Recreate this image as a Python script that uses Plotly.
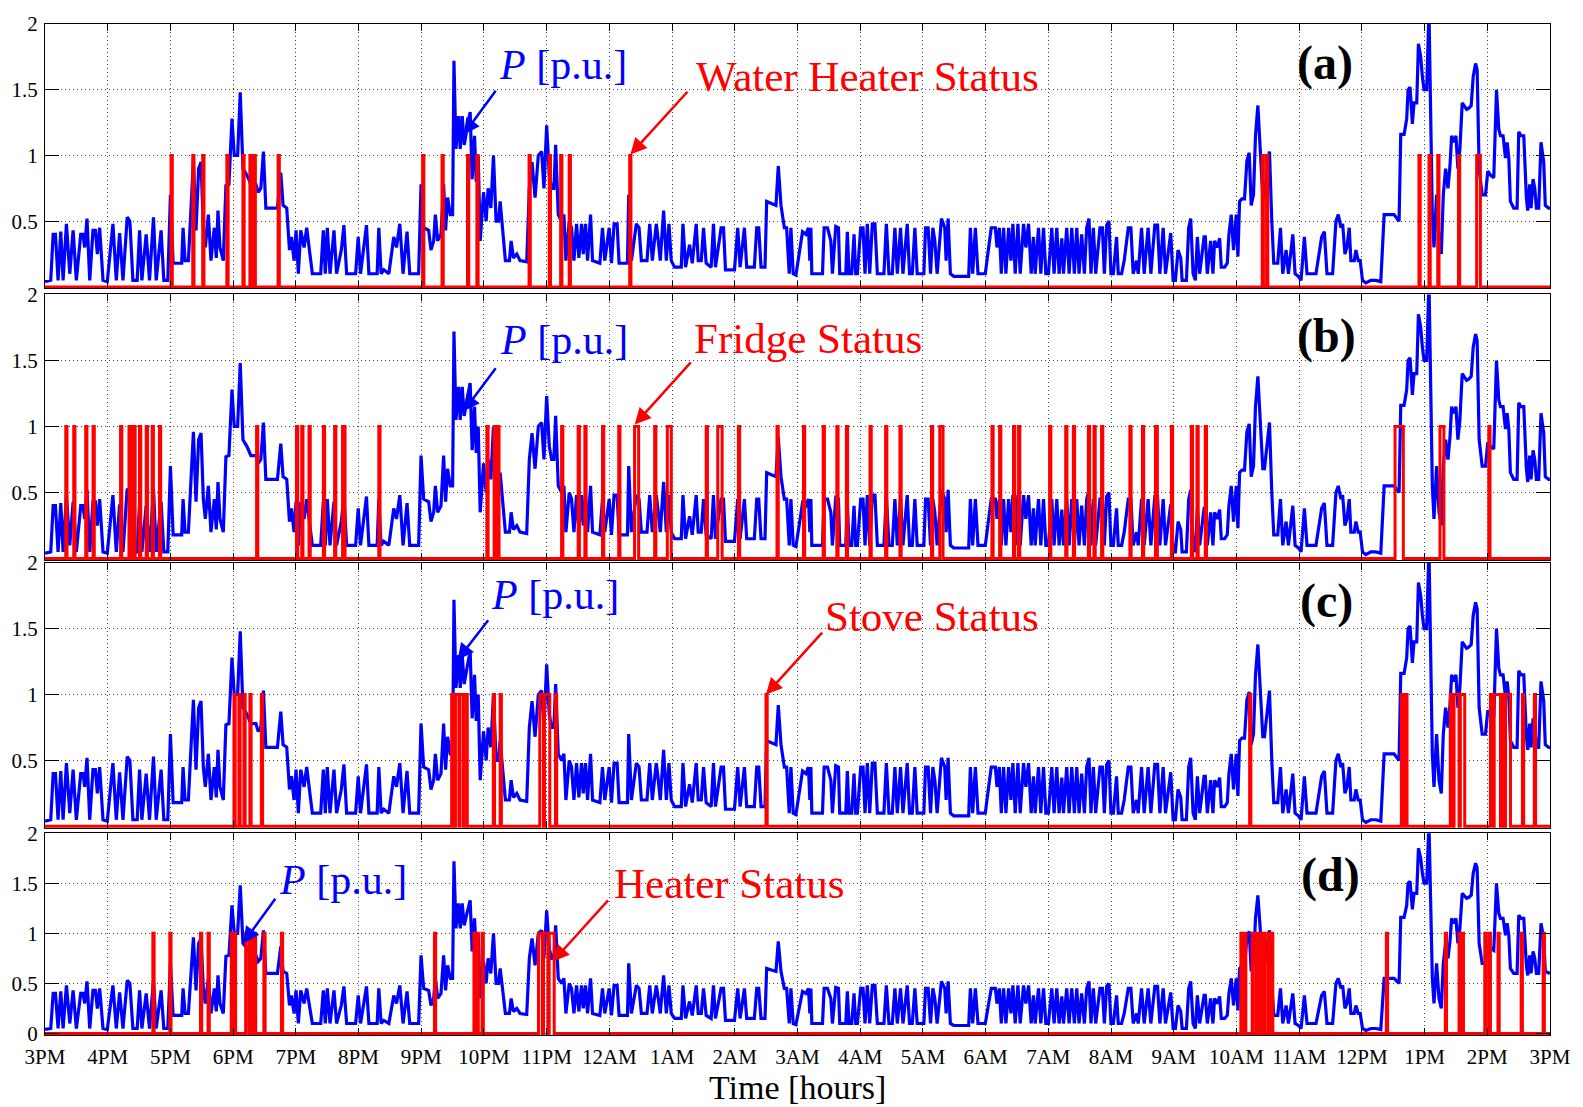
import plotly.graph_objects as go

HOUR_LABELS = ["3PM", "4PM", "5PM", "6PM", "7PM", "8PM", "9PM", "10PM", "11PM", "12AM",
               "1AM", "2AM", "3AM", "4AM", "5AM", "6AM", "7AM", "8AM", "9AM", "10AM",
               "11AM", "12PM", "1PM", "2PM", "3PM"]

# Aggregate power P [p.u.]: minutes after 3PM and value
P_MIN = [0, 5.5, 7.8, 10, 12.5, 15.1, 17.3, 20.5, 23.7, 26.9, 30, 34.2, 36.4, 38, 40.2, 42.8, 45.9, 48.2, 50.1, 52.3,
         55.5, 59.6, 61.8, 65, 68.2, 71.4, 74.6, 78.7, 81.2, 84.1, 88.2, 90.5, 92.7, 96.8, 100, 103.8, 106.4, 111.1, 113.7, 117.5,
         120, 122.6, 130.8, 132.1, 134, 137.2, 139.7, 142, 144.5, 147, 149.3, 151.5, 153.4, 156.3, 158.8, 162, 163.9, 165.5, 167.4, 170.6,
         173.1, 176, 178.9, 181.1, 184.3, 186.8, 189.4, 193.2, 197, 201.8, 204, 206.5, 209, 211.3, 222.4, 225.6, 227.8, 231.3, 233.9, 235.8,
         238.3, 240.2, 242.4, 244.7, 247.9, 250.4, 253, 255.8, 263.8, 266.3, 268.2, 270.1, 272.7, 276.5, 279, 283.5, 286, 288.6, 297.2, 299.7,
         301.9, 307.6, 309.9, 317.8, 319.4, 321.6, 324.2, 329, 333.7, 336.3, 339.5, 342.6, 346.4, 349, 357.5,
         359.8, 362.3, 367.1, 369.3, 371.9, 373.5, 375.7, 378.9, 381.4, 383.3, 385.2, 387.8, 390, 391.3, 393.2, 395.7, 397.3, 399.2, 401.1, 403.7,
         406.8, 408.7, 411, 412.6, 414.5, 416.4, 419.6, 422.1, 424, 426.6, 429.1, 431.6, 433.9, 435.5, 438, 440.5, 444.4, 446, 448.2, 451.4,
         454.5, 460.9, 463.4, 466, 468.9, 472, 475.2, 477.4, 480, 482.5, 484.7, 486.9, 488.6, 491.1, 494.3, 496.5, 498.4, 501.6, 503.8, 506.1,
         508.6, 510.8, 513.4, 515, 517.2, 519.1, 522, 523.9, 530.9, 533.4, 535.6, 539.8, 542, 544.5, 547.4, 549.3, 557.3, 558.5, 561.1, 565.8,
         568.4, 570.6, 576, 578.6, 581.1, 584.9, 586.8, 588.7, 591.9, 594.5, 597, 599.2, 602.4, 608.8, 610.4, 612.9, 616.7, 619.3, 623.1, 625,
         627.9, 630.1, 632.6, 637.4, 639.6, 641.5, 646.9, 649.2, 651.1, 659.7, 662.8, 665.1, 669.2, 671.4, 678.7, 681, 682.9, 685.1, 688.9, 690.5,
         699.4, 701.6, 704.2, 707.4, 709.6, 712.1,
         713.7, 715.9, 718.5, 724.8, 728, 730.5, 731.8, 732.8, 733.7, 743.9, 745.5, 748.7, 751.9, 753.4, 756.6, 759.2, 760.4, 766.2, 767.7, 769.3,
         771.9, 774.1, 775.7, 777.3, 780.5, 782.7, 784.6, 786.8, 789.1, 791.6, 794.1, 796.4, 802.7, 805, 807.5, 810.7, 813.2, 815.5, 818.6, 820.9,
         825, 827.2, 829.8, 832.3, 834.5, 840.9, 842.5, 845, 847.3, 849.5, 851.4, 853.6, 857.7, 860.9, 862.2, 864.1, 866.3, 869.5, 883.8, 885.4,
         887.6, 890.2, 892.7, 899.7, 902.9, 905.4, 909.3, 910.9, 913.1, 915, 917.2, 919.4, 922, 924.2, 926.1, 928.3, 930.9, 933.1, 936.3, 938.5,
         941.1, 943.6, 945.8, 947.4, 950.6, 952.8, 955.4, 957.6, 960.1, 963.3, 965.5, 968.1, 970.3, 972.9, 974.5, 977.6, 979.9, 982.4, 984.9, 987.2,
         989.4, 991.9, 994.5, 996.7, 998.9, 1000.8, 1003.1, 1005.3, 1009.4, 1011.7, 1013.6, 1015.8, 1018, 1019.9, 1022.2, 1025.3, 1026.9, 1030.1, 1032.6, 1036.5,
         1039, 1041.2, 1044.4, 1046, 1049.2, 1051.7, 1055.5, 1058.1, 1061.9, 1064.5, 1066.7, 1069.9, 1072.1,
         1077.1, 1079.4, 1081.6, 1084.1, 1086.7, 1088, 1092.1, 1094.3, 1096.2, 1098.5, 1100.7, 1102.6, 1104.8, 1109, 1110.2, 1112.1, 1115.3, 1117.5, 1119.1, 1121.7,
         1123.9, 1125.5, 1128.7, 1131.2, 1132.8, 1135, 1137.2, 1139.8, 1141.4, 1143, 1145.2, 1147.7, 1150, 1152.2, 1154.1, 1156.3, 1158.2, 1160.5, 1163, 1165.2,
         1166.8, 1169.4, 1171.6, 1173.8, 1175.7, 1179.5, 1182.1, 1184.3, 1187.5, 1189.7, 1193.9, 1196.1, 1199.3, 1201.8, 1205, 1207.5, 1211.3, 1216.1, 1221.5, 1224.1,
         1226.6, 1232, 1235.2, 1237.4, 1240, 1241.6, 1243.8, 1245.7, 1247.9, 1249.5, 1252.7, 1254.3, 1256.5, 1258.4, 1260.6, 1263.8, 1268.6, 1273.4, 1278.1, 1281.3,
         1290.8, 1295.6, 1297.2, 1300.4, 1302.9, 1304.2, 1306.1, 1308.3, 1309.9, 1312.5, 1314.1, 1316.3, 1317.9, 1319.5, 1322, 1324.2, 1327.4, 1329, 1331.5, 1333.8,
         1336, 1337.9, 1340.1, 1342.4, 1344.3, 1345.9, 1348.1, 1350, 1351.9, 1353.8, 1356, 1357.6, 1360.2, 1362.4, 1364.6, 1366.5, 1368.8, 1370.3, 1372.2, 1375.1,
         1378.3, 1380.5, 1383.1, 1386.2, 1388.8, 1391, 1392.6, 1395.1, 1397.4, 1399, 1400.6, 1402.1, 1405.3, 1408.5, 1410.1, 1412.3, 1414.9, 1417.4, 1418.7, 1420.6,
         1421.9, 1423.8, 1425.4, 1427, 1429.2, 1431.4, 1434, 1435.5, 1438.7, 1440]

P_VAL = [0.04, 0.05, 0.40, 0.40, 0.05, 0.42, 0.05, 0.48, 0.10, 0.43, 0.05, 0.40, 0.40, 0.30, 0.52, 0.05, 0.43, 0.43, 0.25, 0.45,
         0.05, 0.04, 0.22, 0.48, 0.05, 0.41, 0.05, 0.53, 0.50, 0.05, 0.05, 0.43, 0.05, 0.40, 0.05, 0.53, 0.05, 0.43, 0.05, 0.05,
         0.70, 0.18, 0.18, 0.45, 0.20, 0.20, 0.60, 0.96, 0.43, 0.90, 0.95, 0.45, 0.30, 0.55, 0.20, 0.45, 0.22, 0.58, 0.30, 0.20,
         0.77, 0.78, 1.28, 1.00, 1.00, 1.48, 0.90, 0.85, 0.78, 0.78, 0.72, 0.75, 1.03, 0.60, 0.60, 0.87, 0.62, 0.60, 0.28, 0.38,
         0.20, 0.43, 0.10, 0.43, 0.30, 0.45, 0.28, 0.10, 0.10, 0.43, 0.10, 0.45, 0.10, 0.43, 0.10, 0.28, 0.47, 0.10, 0.10, 0.38,
         0.10, 0.47, 0.10, 0.10, 0.45, 0.10, 0.13, 0.10, 0.38, 0.30, 0.48, 0.10, 0.42, 0.10, 0.10,
         0.78, 0.45, 0.43, 0.28, 0.35, 0.55, 0.35, 0.40, 0.78, 0.43, 0.68, 0.55, 0.55, 1.72, 1.05, 1.30, 1.05, 1.30, 1.08, 1.20,
         1.33, 0.82, 1.15, 0.80, 1.00, 0.35, 0.72, 0.50, 0.75, 0.60, 1.00, 0.50, 0.50, 0.65, 0.40, 0.20, 0.20, 0.35, 0.22, 0.25,
         0.20, 0.19, 0.75, 0.95, 0.68, 1.00, 1.03, 0.75, 1.23, 0.85, 0.75, 0.75, 1.08, 0.55, 0.50, 0.55, 0.20, 0.50, 0.45, 0.20,
         0.48, 0.22, 0.48, 0.25, 0.48, 0.20, 0.55, 0.20, 0.18, 0.45, 0.20, 0.45, 0.18, 0.48, 0.48, 0.18, 0.18, 0.70, 0.20, 0.48,
         0.45, 0.20, 0.20, 0.48, 0.20, 0.48, 0.35, 0.20, 0.58, 0.20, 0.48, 0.20, 0.15, 0.15, 0.48, 0.15, 0.32, 0.18, 0.48, 0.20,
         0.20, 0.45, 0.18, 0.15, 0.48, 0.15, 0.45, 0.45, 0.13, 0.13, 0.45, 0.15, 0.45, 0.15, 0.15, 0.45, 0.45, 0.15, 0.15, 0.65,
         0.62, 0.92, 0.62, 0.45, 0.45, 0.10,
         0.45, 0.10, 0.09, 0.42, 0.40, 0.45, 0.20, 0.45, 0.10, 0.10, 0.45, 0.45, 0.35, 0.10, 0.46, 0.45, 0.10, 0.10, 0.42, 0.10,
         0.10, 0.40, 0.10, 0.10, 0.45, 0.45, 0.10, 0.48, 0.10, 0.48, 0.48, 0.10, 0.10, 0.48, 0.10, 0.10, 0.45, 0.10, 0.45, 0.10,
         0.48, 0.10, 0.10, 0.45, 0.10, 0.10, 0.45, 0.45, 0.10, 0.45, 0.35, 0.10, 0.52, 0.45, 0.20, 0.52, 0.10, 0.08, 0.08, 0.45,
         0.10, 0.45, 0.10, 0.10, 0.30, 0.45, 0.45, 0.30, 0.45, 0.10, 0.45, 0.10, 0.45, 0.20, 0.48, 0.10, 0.48, 0.10, 0.48, 0.30,
         0.48, 0.10, 0.38, 0.10, 0.45, 0.10, 0.45, 0.10, 0.10, 0.45, 0.10, 0.45, 0.10, 0.37, 0.10, 0.45, 0.10, 0.45, 0.10, 0.45,
         0.10, 0.40, 0.10, 0.45, 0.52, 0.10, 0.45, 0.10, 0.45, 0.45, 0.10, 0.47, 0.50, 0.10, 0.10, 0.38, 0.10, 0.10, 0.20, 0.45,
         0.45, 0.10, 0.20, 0.10, 0.45, 0.10, 0.45, 0.10, 0.47, 0.47, 0.10, 0.45, 0.10,
         0.41, 0.05, 0.05, 0.28, 0.22, 0.05, 0.05, 0.45, 0.52, 0.10, 0.05, 0.38, 0.10, 0.38, 0.38, 0.10, 0.35, 0.10, 0.35, 0.30,
         0.37, 0.15, 0.15, 0.18, 0.40, 0.55, 0.28, 0.55, 0.23, 0.65, 0.67, 0.67, 0.96, 1.02, 0.62, 0.70, 1.15, 1.38, 1.00, 0.68,
         0.68, 0.90, 1.03, 0.50, 0.18, 0.18, 0.45, 0.10, 0.28, 0.10, 0.40, 0.10, 0.08, 0.05, 0.38, 0.10, 0.10, 0.10, 0.38, 0.42,
         0.10, 0.10, 0.50, 0.55, 0.45, 0.48, 0.25, 0.30, 0.45, 0.20, 0.20, 0.28, 0.20, 0.20, 0.05, 0.03, 0.05, 0.05, 0.04, 0.55,
         0.55, 0.50, 1.16, 1.16, 1.28, 1.50, 1.52, 1.24, 1.40, 1.40, 1.85, 1.75, 1.60, 1.50, 1.50, 2.10, 0.55, 0.30, 0.70, 0.35,
         0.25, 0.70, 0.90, 0.75, 0.92, 1.15, 1.10, 1.15, 0.90, 1.05, 1.40, 1.38, 1.35, 1.36, 1.38, 1.60, 1.70, 1.65, 0.90, 0.70,
         0.70, 0.88, 0.85, 0.83, 1.50, 1.20, 1.15, 1.15, 0.98, 1.10, 0.98, 0.65, 0.60, 0.60, 1.18, 1.15, 1.15, 0.68, 0.58, 0.78,
         0.60, 0.82, 0.75, 0.60, 0.60, 1.10, 0.95, 0.62, 0.60, 0.60]

# Appliance ON intervals [start_hour, end_hour] (hours after 3PM)
WATER_HEATER_ON = [[2.01, 2.03], [2.356, 2.376], [2.515, 2.535], [2.90, 2.92], [3.156, 3.176], [3.267, 3.287],
                   [3.335, 3.355], [3.717, 3.737], [6.022, 6.042], [6.331, 6.351], [6.738, 6.758], [6.887, 6.907],
                   [7.719, 7.739], [8.041, 8.061], [8.223, 8.243], [8.359, 8.379], [9.324, 9.344], [19.41, 19.43],
                   [19.48, 19.50], [21.91, 21.93], [22.07, 22.09], [22.21, 22.23], [22.54, 22.56], [22.83, 22.89]]

FRIDGE_ON = [[0.331, 0.351], [0.458, 0.478], [0.649, 0.669], [0.766, 0.786], [1.205, 1.225], [1.339, 1.359],
             [1.375, 1.395], [1.418, 1.438], [1.507, 1.527], [1.614, 1.634], [1.709, 1.729], [1.825, 1.845],
             [3.374, 3.394], [4.010, 4.030], [4.094, 4.114], [4.210, 4.230], [4.439, 4.459], [4.618, 4.638],
             [4.745, 4.785], [5.323, 5.343], [7.046, 7.066], [7.162, 7.182], [7.221, 7.241], [8.238, 8.258],
             [8.502, 8.522], [8.609, 8.629], [8.890, 8.910], [9.149, 9.169], [9.402, 9.467], [9.722, 9.742],
             [9.924, 9.987], [10.544, 10.564], [10.728, 10.798], [11.058, 11.078], [11.673, 11.693], [12.095, 12.115],
             [12.409, 12.429], [12.627, 12.647], [12.779, 12.799], [13.156, 13.176], [13.405, 13.425], [13.633, 13.653],
             [14.137, 14.157], [14.269, 14.321], [15.100, 15.120], [15.223, 15.243], [15.445, 15.465], [15.525, 15.545],
             [16.02, 16.04], [16.277, 16.297], [16.399, 16.419], [16.638, 16.658], [16.728, 16.748], [16.849, 16.869],
             [17.300, 17.320], [17.501, 17.521], [17.708, 17.739], [17.962, 17.982], [18.280, 18.300], [18.370, 18.390],
             [18.502, 18.522], [21.529, 21.661], [22.245, 22.308], [23.024, 23.044]]

STOVE_ON = [[3.013, 3.033], [3.092, 3.112], [3.172, 3.192], [3.267, 3.287], [3.450, 3.470], [6.485, 6.53],
            [6.545, 6.60], [6.615, 6.67], [6.685, 6.734], [7.149, 7.169], [7.258, 7.278], [7.89, 7.95],
            [7.965, 8.05], [8.14, 8.16], [11.497, 11.517], [19.21, 19.23], [21.63, 21.66], [21.68, 21.72],
            [22.41, 22.45], [22.47, 22.55], [22.57, 22.64], [23.05, 23.09], [23.11, 23.21], [23.23, 23.27],
            [23.29, 23.37], [23.56, 23.58], [23.75, 23.77]]

HEATER_ON = [[1.72, 1.74], [1.99, 2.01], [2.48, 2.50], [2.60, 2.62], [2.97, 2.99], [3.02, 3.04], [3.20, 3.25],
             [3.29, 3.31], [3.34, 3.36], [3.49, 3.51], [3.77, 3.79], [6.21, 6.23], [6.84, 6.86], [6.89, 6.91],
             [6.97, 6.99], [7.87, 7.93], [7.95, 8.02], [8.04, 8.12], [19.07, 19.09], [19.13, 19.15], [19.25, 19.27],
             [19.32, 19.34], [19.38, 19.40], [19.44, 19.46], [19.51, 19.53], [19.56, 19.58], [21.39, 21.41],
             [22.33, 22.35], [22.55, 22.57], [22.60, 22.62], [22.96, 22.98], [23.03, 23.05], [23.17, 23.19],
             [23.54, 23.56], [23.89, 23.91]]

STATUS_NAMES = ["Water Heater Status", "Fridge Status", "Stove Status", "Heater Status"]
PANEL_TAGS = ["(a)", "(b)", "(c)", "(d)"]
STATUS_DATA = [WATER_HEATER_ON, FRIDGE_ON, STOVE_ON, HEATER_ON]

# annotation anchors in data units (hours, p.u.)
P_LABEL_POS = [(8.26, 1.69), (8.27, 1.656), (8.14, 1.758), (4.76, 1.535)]
P_ARROW = [((6.674, 1.158), (7.205, 1.504)), ((6.674, 1.115), (7.205, 1.452)),
           ((6.579, 1.263), (7.086, 1.576)), ((3.159, 0.902), (3.69, 1.361))]
S_LABEL_POS = [(13.11, 1.60), (12.17, 1.667), (14.15, 1.593), (10.91, 1.499)]
S_ARROW = [((9.335, 1.0075), (10.267, 1.496)), ((9.404, 1.015), (10.32, 1.497)),
           ((11.498, 1.0), (12.415, 1.481)), ((8.10, 0.72), (9.0, 1.345))]
TAG_POS = [(20.41, 1.70), (20.44, 1.683), (20.44, 1.713), (20.5, 1.585)]

DOMAINS = [[0.7384, 1.0], [0.4697, 0.7325], [0.2048, 0.4671], [0.0, 0.1996]]

FONT = "Liberation Serif"
p_hours = [m / 60.0 for m in P_MIN]


def status_xy(intervals):
    xs, ys = [0.0], [0]
    for s, e in intervals:
        xs += [s, s, e, e]
        ys += [0, 1, 1, 0]
    xs.append(24.0)
    ys.append(0)
    return xs, ys


fig = go.Figure()
annotations = []
layout = {}
for i in range(4):
    n = "" if i == 0 else str(i + 1)
    xa, ya = "x" + n, "y" + n
    fig.add_trace(go.Scatter(x=p_hours, y=P_VAL, mode="lines", xaxis=xa, yaxis=ya,
                             line=dict(color="#0000ff", width=3.2), showlegend=False, hoverinfo="skip"))
    sx, sy = status_xy(STATUS_DATA[i])
    fig.add_trace(go.Scatter(x=sx, y=sy, mode="lines", xaxis=xa, yaxis=ya,
                             line=dict(color="#ff0000", width=3), showlegend=False, hoverinfo="skip"))

    last = (i == 3)
    layout["xaxis" + n] = dict(
        domain=[0, 1], anchor=ya, range=[0, 24], tickvals=list(range(25)), ticktext=HOUR_LABELS,
        showticklabels=last, ticks="inside", ticklen=7, tickcolor="black", tickwidth=1,
        showline=True, linecolor="black", linewidth=1, mirror="ticks",
        showgrid=True, gridcolor="#444444", griddash="1px,3px", gridwidth=1, zeroline=False,
        tickfont=dict(family=FONT, size=21, color="black"), ticklabelstandoff=3,
        **({} if i == 0 else {"matches": "x"}))
    yt = [0, 0.5, 1, 1.5, 2] if last else [0.5, 1, 1.5, 2]
    layout["yaxis" + n] = dict(
        domain=DOMAINS[i], anchor=xa, range=[-0.015 if last else -0.012, 2], tickvals=yt,
        ticks="inside", ticklen=14, tickcolor="black", tickwidth=1,
        showline=True, linecolor="black", linewidth=1, mirror="ticks",
        showgrid=True, gridcolor="#444444", griddash="1px,3px", gridwidth=1, zeroline=False,
        tickfont=dict(family=FONT, size=21, color="black"), ticklabelstandoff=2)

    annotations.append(dict(xref=xa, yref=ya, x=P_LABEL_POS[i][0], y=P_LABEL_POS[i][1],
                            text="<i>P</i> [p.u.]", showarrow=False, xanchor="center", yanchor="middle",
                            font=dict(family=FONT, size=42, color="#0000ff")))
    annotations.append(dict(xref=xa, yref=ya, x=S_LABEL_POS[i][0], y=S_LABEL_POS[i][1],
                            text=STATUS_NAMES[i], showarrow=False, xanchor="center", yanchor="middle",
                            font=dict(family=FONT, size=43, color="#ff0000")))
    annotations.append(dict(xref=xa, yref=ya, x=TAG_POS[i][0], y=TAG_POS[i][1],
                            text="<b>" + PANEL_TAGS[i] + "</b>", showarrow=False, xanchor="center",
                            yanchor="middle", font=dict(family=FONT, size=48, color="black")))
    (hx, hy), (tx, ty) = P_ARROW[i]
    annotations.append(dict(xref=xa, yref=ya, axref=xa, ayref=ya, x=hx, y=hy, ax=tx, ay=ty, text="",
                            showarrow=True, arrowhead=2, arrowsize=1.3, arrowwidth=2.5, arrowcolor="#0000ff"))
    (hx, hy), (tx, ty) = S_ARROW[i]
    annotations.append(dict(xref=xa, yref=ya, axref=xa, ayref=ya, x=hx, y=hy, ax=tx, ay=ty, text="",
                            showarrow=True, arrowhead=2, arrowsize=1.3, arrowwidth=2.5, arrowcolor="#ff0000"))

annotations.append(dict(xref="paper", yref="paper", x=0.5, y=-0.0515, text="Time [hours]", showarrow=False,
                        xanchor="center", yanchor="middle", font=dict(family=FONT, size=34, color="black")))

fig.update_layout(**layout)
fig.update_layout(
    width=1583, height=1107, autosize=False,
    margin=dict(l=43, r=30, t=18, b=72, pad=0),
    paper_bgcolor="white", plot_bgcolor="white",
    annotations=annotations, showlegend=False,
)

fig.write_html("out.html")
